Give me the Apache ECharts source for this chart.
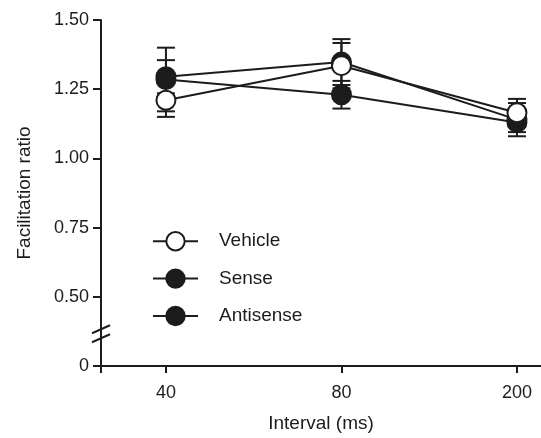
<!DOCTYPE html>
<html><head><meta charset="utf-8">
<script src="https://cdn.jsdelivr.net/npm/echarts@6/dist/echarts.min.js"></script>
<style>html,body{margin:0;padding:0;background:#fff}#c{width:541px;height:438px}</style>
</head><body><div id="c"></div>
<script>
// Data
const categories = ["40", "80", "200"];
const seriesNames = ["Vehicle", "Sense", "Antisense"];
const vehicle = [1.21, 1.335, 1.165];
const vehicleErr = [0.06, 0.082, 0.05];
const sense = [1.295, 1.348, 1.14];
const senseErr = [0.06, 0.083, 0.06];
const antisense = [1.285, 1.23, 1.13];
const antisenseErr = [0.115, 0.05, 0.035];
const yTickValues = [0.25, 0.5, 0.75, 1.0, 1.25, 1.5];
const yTickLabels = ["0", "0.50", "0.75", "1.00", "1.25", "1.50"];
const yBreakValue = 0.372;

const ink = '#1c1c1c';
const font = '"Liberation Sans", Arial, sans-serif';
const xMin = -0.37, xMax = 2.137;

const chart = echarts.init(document.getElementById('c'), null, {renderer: 'canvas'});

function errSeries(name, vals, errs, z) {
  return {
    type: 'custom', name: name + ' err', silent: true, z: z,
    renderItem: function (params, api) {
      const x = api.value(0), y = api.value(1), e = api.value(2);
      const t = api.coord([x, y + e]), b = api.coord([x, y - e]);
      const hw = 9;
      const st = {stroke: ink, lineWidth: 2};
      return {type: 'group', children: [
        {type: 'line', shape: {x1: t[0], y1: t[1], x2: b[0], y2: b[1]}, style: st},
        {type: 'line', shape: {x1: t[0] - hw, y1: t[1], x2: t[0] + hw, y2: t[1]}, style: st},
        {type: 'line', shape: {x1: b[0] - hw, y1: b[1], x2: b[0] + hw, y2: b[1]}, style: st}
      ]};
    },
    data: vals.map((v, i) => [i, v, errs[i]])
  };
}

function lineSeries(name, vals, open, z) {
  return {
    type: 'line', name: name, z: z,
    data: vals.map((v, i) => [i, v]),
    symbol: 'circle', symbolSize: 19,
    itemStyle: {color: open ? '#ffffff' : ink, borderColor: ink, borderWidth: 2},
    lineStyle: {color: ink, width: 2},
    emphasis: {disabled: true},
    animation: false
  };
}

const option = {
  animation: false,
  backgroundColor: '#ffffff',
  textStyle: {fontFamily: font, color: ink},
  grid: {left: 101, right: 0, top: 20, bottom: 66, containLabel: false},
  legend: {
    data: seriesNames, orient: 'vertical', left: 147, top: 226,
    itemWidth: 45, itemHeight: 23, itemGap: 17,
    textStyle: {fontSize: 19, color: ink, fontFamily: font, padding: [0, 0, 0, 16]},
    selectedMode: false
  },
  xAxis: {
    type: 'value', min: xMin, max: xMax,
    name: 'Interval (ms)', nameLocation: 'middle', nameGap: 48,
    nameTextStyle: {fontSize: 19, color: ink, fontFamily: font},
    axisLine: {show: true, onZero: false, lineStyle: {color: ink, width: 2}},
    axisTick: {show: true, customValues: [xMin, 0, 1, 2], length: 7, lineStyle: {color: ink, width: 2}},
    axisLabel: {customValues: [0, 1, 2], margin: 18, fontSize: 18, color: ink, fontFamily: font,
      formatter: v => categories[Math.round(v)]},
    splitLine: {show: false}
  },
  yAxis: {
    type: 'value', min: 0.25, max: 1.5, interval: 0.25,
    name: 'Facilitation ratio', nameLocation: 'middle', nameGap: 67,
    nameTextStyle: {fontSize: 19, color: ink, fontFamily: font},
    axisLine: {show: true, onZero: false, lineStyle: {color: ink, width: 2}},
    axisTick: {show: true, length: 8, lineStyle: {color: ink, width: 2}},
    axisLabel: {margin: 12, fontSize: 18, color: ink, fontFamily: font,
      formatter: v => { const i = yTickValues.findIndex(t => Math.abs(t - v) < 1e-6); return i >= 0 ? yTickLabels[i] : ''; }},
    splitLine: {show: false}
  },
  series: [
    errSeries('Antisense', antisense, antisenseErr, 1),
    errSeries('Sense', sense, senseErr, 1),
    errSeries('Vehicle', vehicle, vehicleErr, 1),
    lineSeries('Antisense', antisense, false, 3),
    lineSeries('Sense', sense, false, 4),
    lineSeries('Vehicle', vehicle, true, 5)
  ]
};
chart.setOption(option);

// axis break marks
const yb = chart.convertToPixel({yAxisIndex: 0}, yBreakValue);
const x0 = chart.convertToPixel({xAxisIndex: 0}, xMin);
chart.setOption({graphic: [
  {type: 'line', z: 100, shape: {x1: x0 - 9, y1: yb + 1, x2: x0 + 9, y2: yb - 7}, style: {stroke: ink, lineWidth: 2}},
  {type: 'line', z: 100, shape: {x1: x0 - 9, y1: yb + 10, x2: x0 + 9, y2: yb + 2}, style: {stroke: ink, lineWidth: 2}}
]});
</script></body></html>
